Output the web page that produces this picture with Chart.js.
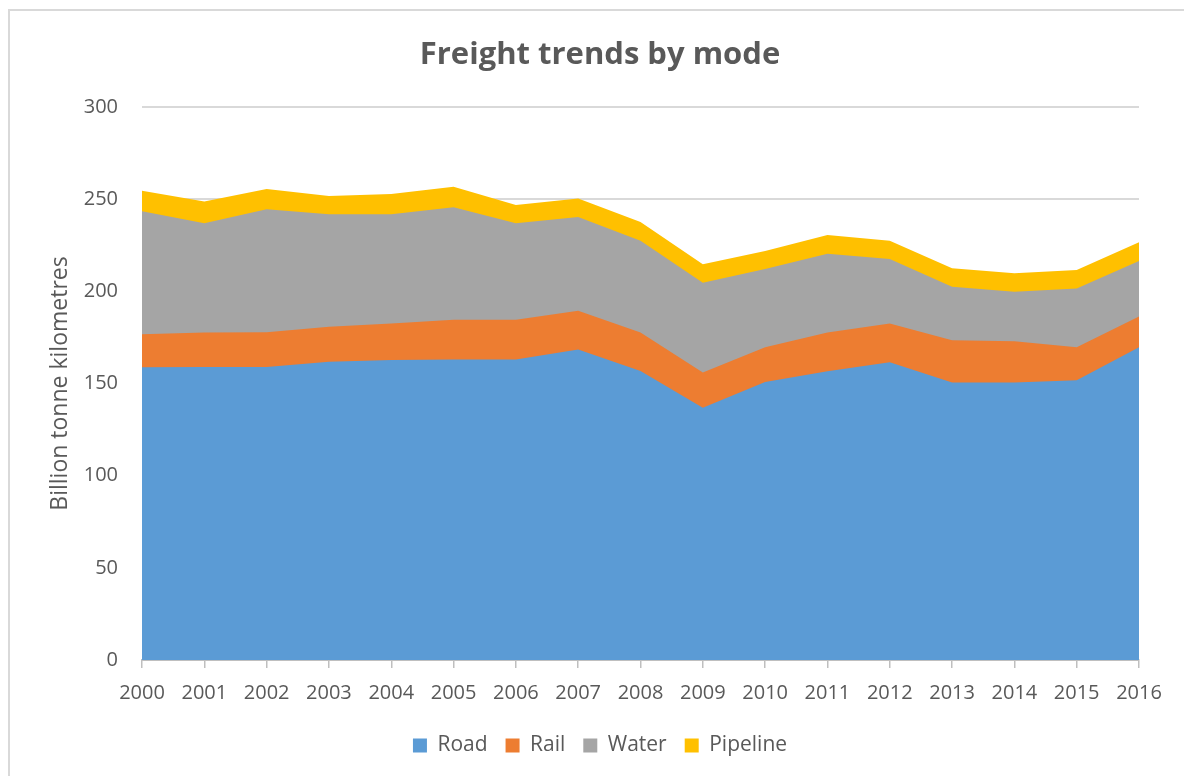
<!DOCTYPE html>
<html>
<head>
<meta charset="utf-8">
<script src="https://cdn.jsdelivr.net/npm/chart.js@4/dist/chart.umd.min.js"></script>
<style>
  html, body { margin: 0; padding: 0; background: #ffffff; overflow: hidden; }
  #frame { position: absolute; left: 8px; top: 9px; width: 1200px; height: 800px; border: 2px solid #d9d9d9; box-sizing: border-box; }
  #wrap { position: absolute; left: 0; top: 0; width: 1184px; height: 776px; }
</style>
</head>
<body>
<div id="frame"></div>
<div id="wrap"><canvas id="c" width="1184" height="776"></canvas></div>
<script>
const years = ['2000','2001','2002','2003','2004','2005','2006','2007','2008','2009','2010','2011','2012','2013','2014','2015','2016'];
const road     = [158.8,159.0,159.0,161.8,162.8,163.0,163.0,168.5,156.8,136.9,150.8,156.6,161.5,150.6,150.6,151.7,169.6];
const rail     = [17.9,18.6,18.8,19.0,19.8,21.6,21.6,21.0,20.8,19.1,18.8,21.1,21.0,22.8,22.3,17.9,16.7];
const water    = [66.7,59.3,66.7,61.0,59.2,61.0,52.3,50.8,49.9,48.7,42.5,42.7,35.1,29.1,26.9,32.0,30.1];
const pipeline = [11.2,11.8,11.0,9.9,11.0,11.2,9.9,10.1,10.1,10.0,9.8,10.1,9.9,10.0,10.0,10.0,10.2];
const yTicks = [0,50,100,150,200,250,300];

const FONT = '"Open Sans", "Liberation Sans", sans-serif';
const TXT = '#595959';

function ds(label, data, color) {
  return { label, data, backgroundColor: color, borderColor: color, borderWidth: 0,
           fill: true, pointRadius: 0, pointHoverRadius: 0, tension: 0 };
}

new Chart(document.getElementById('c'), {
  type: 'line',
  data: {
    labels: years,
    datasets: [
      ds('Road', road, '#5B9BD5'),
      ds('Rail', rail, '#ED7D31'),
      ds('Water', water, '#A5A5A5'),
      ds('Pipeline', pipeline, '#FFC000')
    ]
  },
  options: {
    responsive: false,
    animation: false,
    events: [],
    layout: { padding: { left: 61, right: 45, top: 0, bottom: 10 } },
    plugins: {
      title: {
        display: true, text: 'Freight trends by mode', color: TXT,
        font: { family: FONT, size: 31, weight: 'bold' },
        padding: { top: 36.4, bottom: 33.4 }
      },
      legend: {
        position: 'bottom',
        labels: {
          color: TXT, font: { family: FONT, size: 21 },
          boxWidth: 14, boxHeight: 14, padding: 18
        }
      },
      tooltip: { enabled: false },
      filler: { propagate: false }
    },
    scales: {
      x: {
        offset: false,
        grid: { drawOnChartArea: false, drawTicks: true, tickLength: 8, color: '#bfbfbf', lineWidth: 1.5 },
        border: { display: true, color: '#bfbfbf', width: 2 },
        ticks: { color: TXT, font: { family: FONT, size: 20 }, padding: 13, maxRotation: 0, autoSkip: false },
        afterFit: (s) => { s.height = 57; }
      },
      y: {
        stacked: true,
        min: 0, max: 300,
        afterBuildTicks: (s) => { s.ticks = yTicks.map(v => ({ value: v })); },
        grid: { drawTicks: false, color: '#d9d9d9', lineWidth: 2 },
        border: { display: false },
        ticks: { color: TXT, font: { family: FONT, size: 20 }, padding: 24 },
        title: {
          display: true, text: 'Billion tonne kilometres', color: TXT,
          font: { family: FONT, size: 23 }, padding: { top: -14.8, bottom: 0 }
        },
        afterFit: (s) => { s.width = 81; }
      }
    }
  }
});
</script>
</body>
</html>
